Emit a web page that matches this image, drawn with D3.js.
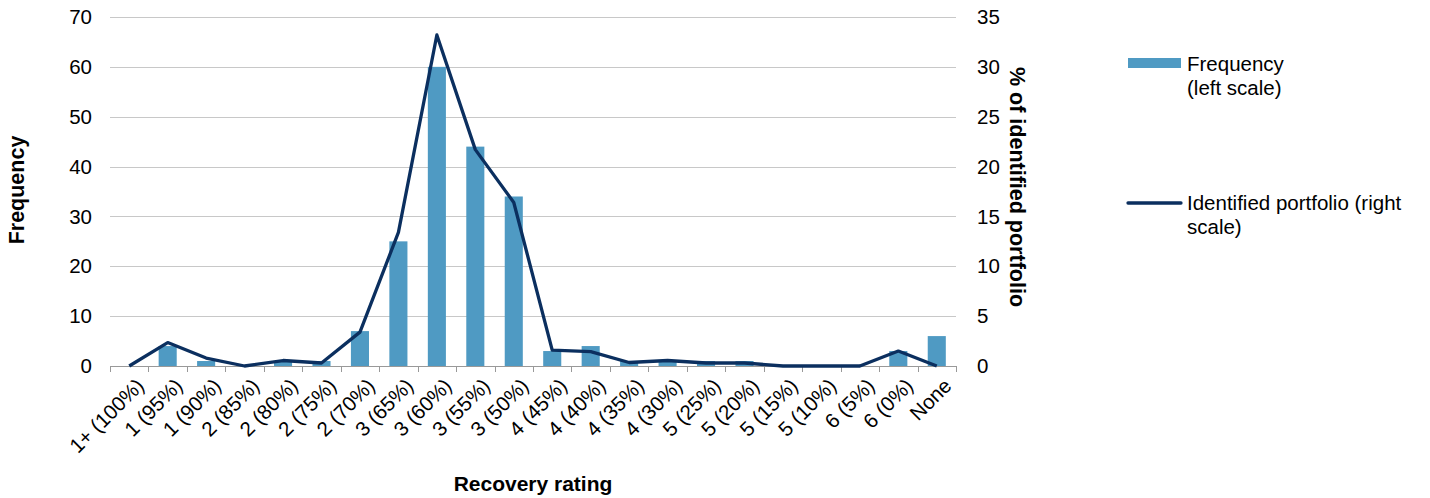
<!DOCTYPE html>
<html><head><meta charset="utf-8">
<script src="https://cdn.jsdelivr.net/npm/d3@7"></script>
<style>body{margin:0;background:#fff;}svg{display:block;font-family:"Liberation Sans",Arial,sans-serif;}</style>
</head><body><svg id="c" width="1430" height="498"></svg>
<script>
const categories = ["1+ (100%)","1 (95%)","1 (90%)","2 (85%)","2 (80%)","2 (75%)","2 (70%)","3 (65%)","3 (60%)","3 (55%)","3 (50%)","4 (45%)","4 (40%)","4 (35%)","4 (30%)","5 (25%)","5 (20%)","5 (15%)","5 (10%)","6 (5%)","6 (0%)","None"];
const frequency = [0,4,1,0,1,1,7,25,60,44,34,3,4,1,1,1,1,0,0,0,3,6];
const portfolioPct = [0,2.35,0.8,0,0.55,0.3,3.4,13.4,33.2,21.7,16.4,1.6,1.45,0.35,0.55,0.3,0.3,0,0,0,1.5,0];
const leftTicks = [0,10,20,30,40,50,60,70];
const rightTicks = [0,5,10,15,20,25,30,35];

const svg = d3.select("#c");
const L = 110, R = 956, T = 17, B = 366;
const FS = 20.5;
const x = d3.scaleBand().domain(categories).range([L, R]).paddingInner(0.53).paddingOuter(0.265);
const xb = d3.scaleBand().domain(categories).range([L, R]);
const yL = d3.scaleLinear().domain([0,70]).range([B, T]);
const yR = d3.scaleLinear().domain([0,35]).range([B, T]);

// gridlines
svg.append("g").selectAll("line").data(leftTicks.slice(1)).join("line")
  .attr("x1", L).attr("x2", R).attr("y1", d=>Math.round(yL(d))+0.5).attr("y2", d=>Math.round(yL(d))+0.5)
  .attr("stroke", "#c8c8c8").attr("stroke-width", 1);

// bars
svg.append("g").selectAll("rect").data(frequency).join("rect")
  .attr("x", (d,i)=>x(categories[i])).attr("width", x.bandwidth())
  .attr("y", d=>yL(d)).attr("height", d=>B - yL(d))
  .attr("fill", "#4f9ac3");

// x axis line and ticks
const ax = svg.append("g");
ax.append("line").attr("x1", L).attr("x2", R).attr("y1", B+0.5).attr("y2", B+0.5).attr("stroke", "#999").attr("stroke-width", 1);
const bounds = categories.map(c=>xb(c)).concat([R]);
ax.selectAll("line.t").data(bounds).join("line").attr("class","t")
  .attr("x1", d=>Math.round(d)+0.5).attr("x2", d=>Math.round(d)+0.5).attr("y1", B).attr("y2", B+6)
  .attr("stroke", "#999").attr("stroke-width", 1);

// line
const line = d3.line().x((d,i)=>xb(categories[i]) + xb.bandwidth()/2).y(d=>yR(d));
svg.append("path").datum(portfolioPct).attr("d", line)
  .attr("fill","none").attr("stroke","#0b2f5f").attr("stroke-width",3.3).attr("stroke-linejoin","round");

// left tick labels
svg.append("g").selectAll("text").data(leftTicks).join("text")
  .attr("x", 92).attr("y", d=>yL(d)).attr("dy","0.35em").attr("text-anchor","end")
  .attr("font-size", FS).attr("fill","#000").text(d=>d);
// right tick labels
svg.append("g").selectAll("text").data(rightTicks).join("text")
  .attr("x", 977).attr("y", d=>yR(d)).attr("dy","0.35em").attr("text-anchor","start")
  .attr("font-size", FS).attr("fill","#000").text(d=>d);

// x tick labels
svg.append("g").selectAll("text").data(categories).join("text")
  .attr("transform", c=>`translate(${xb(c)+xb.bandwidth()/2+11},${B+16}) rotate(-45)`)
  .attr("text-anchor","end").attr("dy","0.35em")
  .attr("font-size", FS).attr("fill","#000").text(c=>c);

// axis titles
svg.append("text").attr("transform","translate(24,190) rotate(-90)").attr("text-anchor","middle")
  .attr("font-size",21.5).attr("font-weight","bold").text("Frequency");
svg.append("text").attr("transform","translate(1010,187) rotate(90)").attr("text-anchor","middle")
  .attr("font-size",21.5).attr("font-weight","bold").text("% of identified portfolio");
svg.append("text").attr("x",533).attr("y",491).attr("text-anchor","middle")
  .attr("font-size",21).attr("font-weight","bold").text("Recovery rating");

// legend
const lg = svg.append("g");
lg.append("rect").attr("x",1128).attr("y",58).attr("width",53).attr("height",10).attr("fill","#4f9ac3");
lg.append("text").attr("x",1187).attr("y",71).attr("font-size",FS).text("Frequency");
lg.append("text").attr("x",1187).attr("y",95).attr("font-size",FS).text("(left scale)");
lg.append("line").attr("x1",1128).attr("x2",1181).attr("y1",203).attr("y2",203).attr("stroke","#0b2f5f").attr("stroke-width",3.3).attr("stroke-linecap","round");
lg.append("text").attr("x",1187).attr("y",210).attr("font-size",FS).text("Identified portfolio (right");
lg.append("text").attr("x",1187).attr("y",234).attr("font-size",FS).text("scale)");
</script></body></html>
